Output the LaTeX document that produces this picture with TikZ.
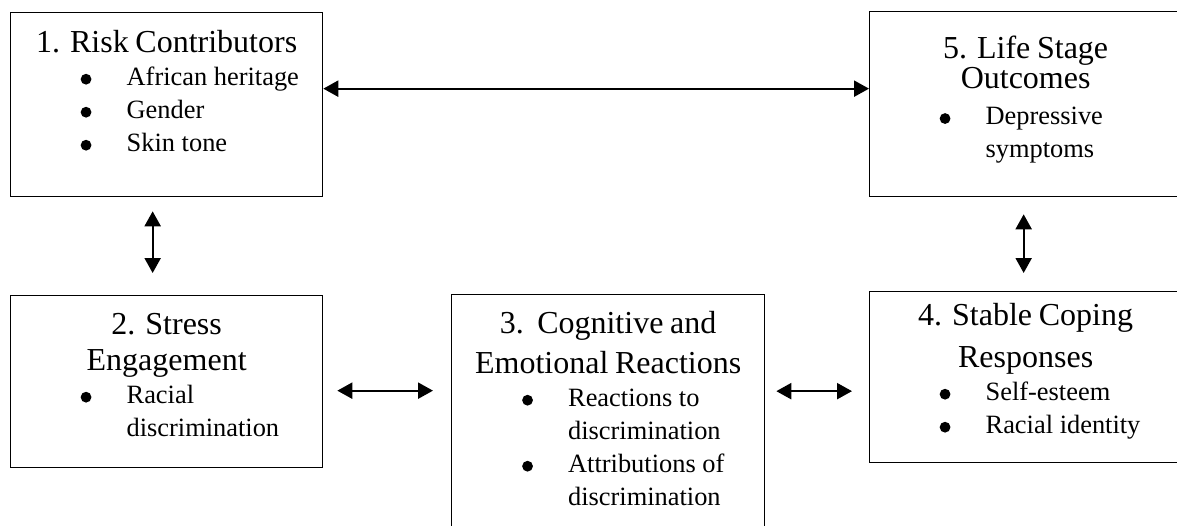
\documentclass[tikz,border=0pt]{standalone}
\usepackage{fontspec}
\setmainfont{Liberation Serif}
\usetikzlibrary{arrows.meta}

\newcommand{\hd}[1]{{\fontsize{16pt}{19pt}\selectfont\centering #1\par}}
\newcommand{\dotmark}{\tikz[baseline=0pt]\fill (2.7pt,3.2pt) circle (2.7pt);}
\newcommand{\bul}[1]{{\fontsize{13.2pt}{16.5pt}\selectfont
  \hangindent=58pt\hangafter=1\noindent\hspace*{35pt}\makebox[23pt][l]{\dotmark}#1\par}}

\tikzset{
  stage/.style={draw, line width=0.65pt, anchor=north west, inner sep=0pt,
    minimum width=156pt},
  stagetext/.style={anchor=north, inner sep=0pt, text width=156pt},
  link/.style={{Triangle[length=7.5pt,width=8pt]}-{Triangle[length=7.5pt,width=8pt]},
    line width=1.1pt}
}

\begin{document}
\begin{tikzpicture}[x=0.5pt,y=-0.5pt]
\useasboundingbox (0,0) rectangle (1177,525);

% boxes
\node[stage, minimum height=92pt] (rc) at (10,12) {};
\node[stage, minimum height=92.5pt] (ls) at (869,11) {};
\node[stage, minimum height=86pt] (se) at (10,295) {};
\node[stage, minimum height=120.5pt, minimum width=156.5pt] (cer) at (451,294) {};
\node[stage, minimum height=85.5pt] (sc) at (869,291) {};

% texts
\node[stagetext] (rc-txt) at ([yshift=-9pt]rc.north) {\hd{1. Risk Contributors}
  \bul{African heritage}\bul{Gender}\bul{Skin tone}};
\node[stagetext] (ls-txt) at ([yshift=-12.5pt]ls.north) {\hd{5. Life Stage\\[-4pt]Outcomes}
  \vspace{1.5pt}\bul{Depressive\newline symptoms}};
\node[stagetext] (se-txt) at ([yshift=-9pt]se.north) {\hd{2. Stress\\[-1pt]Engagement}
  \bul{Racial\newline discrimination}};
\node[stagetext] (cer-txt) at ([yshift=-8.5pt]cer.north) {\hd{3.\ \ Cognitive and\\[1pt]Emotional Reactions}
  \bul{Reactions to\newline discrimination}\bul{Attributions of\newline discrimination}};
\node[stagetext] (sc-txt) at ([yshift=-6pt]sc.north) {\hd{4. Stable Coping\\[2pt]Responses}
  \bul{Self-esteem}\bul{Racial identity}};

% arrows
\draw[link] ([yshift=8pt]rc.east) -- ([yshift=8pt]rc.east -| ls.west);
\draw[link] ([xshift=-7pt,yshift=-7pt]rc.south) -- ([xshift=-7pt,yshift=11pt]se.north);
\draw[link] ([xshift=-1pt,yshift=-8.5pt]ls.south) -- ([xshift=-1pt,yshift=9pt]sc.north);
\draw[link] ([xshift=7pt,yshift=-4.5pt]se.east) -- ([xshift=-9pt,yshift=-4.5pt]se.east -| cer.west);
\draw[link] ([xshift=5.5pt,yshift=-7pt]sc.west -| cer.east) -- ([xshift=-8.5pt,yshift=-7pt]sc.west);
\end{tikzpicture}
\end{document}
